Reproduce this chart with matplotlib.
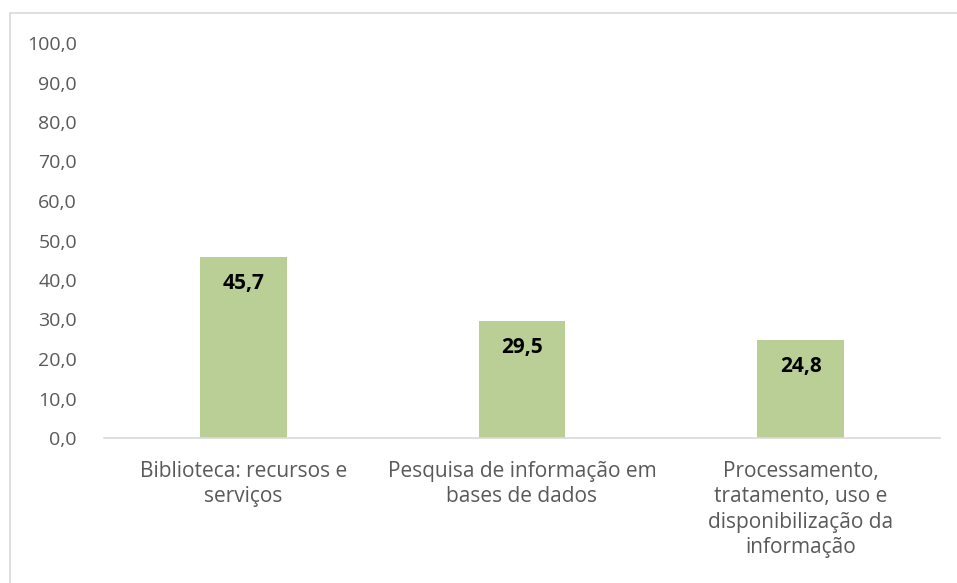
import matplotlib.pyplot as plt
from matplotlib.patches import Rectangle

categories = ["Biblioteca: recursos e\nserviços",
              "Pesquisa de informação em\nbases de dados",
              "Processamento,\ntratamento, uso e\ndisponibilização da\ninformação"]
values = [45.7, 29.5, 24.8]
yticks = [0, 10, 20, 30, 40, 50, 60, 70, 80, 90, 100]

plt.rcParams['font.family'] = ['Open Sans', 'DejaVu Sans']

W, H = 957, 583
fig = plt.figure(figsize=(W / 100, H / 100), dpi=100)
ax = fig.add_axes([104 / W, 1 - 438 / H, (940 - 104) / W, (438 - 43) / H])

x = range(len(categories))
bars = ax.bar(x, values, width=0.31, color='#BACF96')
for b, v in zip(bars, values):
    ax.text(b.get_x() + b.get_width() / 2, v - 6.6, f"{v:.1f}".replace('.', ','),
            ha='center', va='center', fontsize=15, fontweight='bold', color='black')

ax.set_xlim(-0.5, len(categories) - 0.5)
ax.set_ylim(0, 100)
ax.set_yticks(yticks)
ax.set_yticklabels([f"{t:.1f}".replace('.', ',') for t in yticks], fontsize=14)
ax.set_xticks(list(x))
ax.set_xticklabels(categories, linespacing=1.27, va='top', fontsize=15)
ax.tick_params(axis='both', length=0, colors='#595959')
ax.tick_params(axis='y', pad=19.5)
ax.tick_params(axis='x', pad=16.5)
for s in ['top', 'right', 'left']:
    ax.spines[s].set_visible(False)
ax.spines['bottom'].set_color('#D9D9D9')
ax.spines['bottom'].set_linewidth(1.2)

fig.patches.append(Rectangle((10 / W, -0.1), 1.2, 1.1 - 13 / H, transform=fig.transFigure,
                             fill=False, edgecolor='#D9D9D9', linewidth=1.2))

fig.savefig('out.png', dpi=100)
